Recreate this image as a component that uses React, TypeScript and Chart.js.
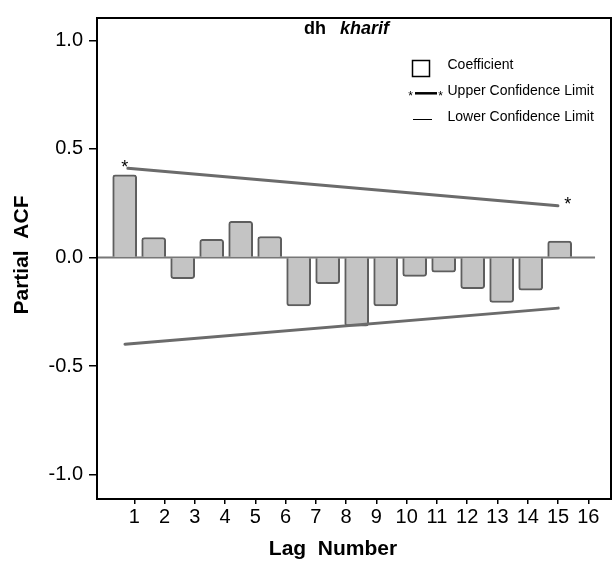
import React, { useEffect, useRef } from 'react';
import { Chart, registerables } from 'chart.js';

Chart.register(...registerables);

const FONT = "'Liberation Sans', Arial, Helvetica, sans-serif";

// Lags and partial autocorrelation coefficients
const lags = [1, 2, 3, 4, 5, 6, 7, 8, 9, 10, 11, 12, 13, 14, 15, 16];
const pacfValues = [0.381, 0.092, -0.097, 0.084, 0.167, 0.097, -0.223, -0.12, -0.316, -0.223, -0.087, -0.067, -0.143, -0.207, -0.15, 0.076];

// Visible axis tick values / labels
const xTickValues = [1, 2, 3, 4, 5, 6, 7, 8, 9, 10, 11, 12, 13, 14, 15, 16];
const xTickLabels = ['1', '2', '3', '4', '5', '6', '7', '8', '9', '10', '11', '12', '13', '14', '15', '16'];
const yTickValues = [-1, -0.5, 0, 0.5, 1];

// Confidence limits (end points on lag axis)
const upperLimitLags = [1.11, 15.94];
const upperLimitValues = [0.411, 0.238];
const lowerLimitLags = [1.01, 15.95];
const lowerLimitValues = [-0.399, -0.233];

// Zero reference line
const zeroLineLags = [0.045, 17.22];
const zeroLineValues = [0, 0];

// Asterisk markers on the upper limit
const asteriskLags = [1.0, 16.28];
const asteriskValues = [0.433, 0.263];

const legendLabels = ['Coefficient', 'Upper Confidence Limit', 'Lower Confidence Limit'];
const titleParts = ['dh', 'kharif'];
const xTitle = 'Lag  Number';
const yTitle = 'Partial  ACF';

function drawStar(ctx: CanvasRenderingContext2D, x: number, y: number, size: number) {
  ctx.font = `${size}px ${FONT}`;
  ctx.textAlign = 'center';
  ctx.textBaseline = 'alphabetic';
  const m = ctx.measureText('*');
  const asc = m.actualBoundingBoxAscent || size * 0.72;
  const desc = m.actualBoundingBoxDescent || -size * 0.44;
  ctx.fillText('*', x, y + (asc - desc) / 2);
}

const decorPlugin = {
  id: 'decor',
  afterDraw(chart: any) {
    const { ctx, chartArea: a, scales } = chart;
    ctx.save();
    // frame
    ctx.strokeStyle = '#000';
    ctx.lineWidth = 2;
    ctx.strokeRect(a.left, a.top, a.right - a.left, a.bottom - a.top);

    // asterisks
    ctx.fillStyle = '#000';
    asteriskLags.forEach((lx, i) => {
      const px = scales.xd.getPixelForValue(lx);
      const py = scales.y.getPixelForValue(asteriskValues[i]);
      drawStar(ctx, px, py, 18);
    });

    // title
    ctx.textAlign = 'left';
    ctx.textBaseline = 'middle';
    ctx.font = `bold 18px ${FONT}`;
    ctx.fillText(titleParts[0], 304, 29);
    ctx.font = `italic bold 18px ${FONT}`;
    ctx.fillText(titleParts[1], 340, 29);

    // legend
    ctx.lineWidth = 1.5;
    ctx.strokeStyle = '#000';
    ctx.fillStyle = '#fff';
    ctx.fillRect(412.5, 60.5, 17, 16);
    ctx.strokeRect(412.5, 60.5, 17, 16);
    ctx.fillStyle = '#000';
    ctx.beginPath();
    ctx.lineWidth = 2.5;
    ctx.moveTo(415, 93.3);
    ctx.lineTo(437, 93.3);
    ctx.stroke();
    ctx.beginPath();
    ctx.lineWidth = 1;
    ctx.moveTo(413, 119.5);
    ctx.lineTo(432, 119.5);
    ctx.stroke();
    drawStar(ctx, 410.5, 93, 12);
    drawStar(ctx, 440.5, 93, 12);
    ctx.font = `14px ${FONT}`;
    ctx.textAlign = 'left';
    ctx.textBaseline = 'middle';
    ctx.fillText(legendLabels[0], 447.5, 65.5);
    ctx.fillText(legendLabels[1], 447.5, 91.5);
    ctx.fillText(legendLabels[2], 447.5, 117.5);

    // axis titles
    ctx.font = `bold 21px ${FONT}`;
    ctx.textAlign = 'center';
    ctx.textBaseline = 'middle';
    ctx.fillText(xTitle, 333, 549);
    ctx.save();
    ctx.translate(22.5, 255);
    ctx.rotate(-Math.PI / 2);
    ctx.fillText(yTitle, 0, 0);
    ctx.restore();
    ctx.restore();
  },
};

export default function App() {
  const ref = useRef<HTMLCanvasElement>(null);

  useEffect(() => {
    if (!ref.current) return;
    const chart = new Chart(ref.current, {
      type: 'bar',
      data: {
        datasets: [
          {
            type: 'line',
            data: zeroLineLags.map((x, i) => ({ x, y: zeroLineValues[i] })),
            xAxisID: 'xd',
            yAxisID: 'y',
            borderColor: '#777777',
            borderWidth: 2,
            pointRadius: 0,
            order: 3,
          } as any,
          {
            type: 'bar',
            data: lags.map((x, i) => ({ x, y: pacfValues[i] })),
            xAxisID: 'xd',
            yAxisID: 'y',
            backgroundColor: '#c4c4c4',
            borderColor: '#5e5e5e',
            borderWidth: 2,
            borderRadius: 3,
            barThickness: 24,
            order: 2,
          } as any,
          {
            type: 'line',
            data: upperLimitLags.map((x, i) => ({ x, y: upperLimitValues[i] })),
            xAxisID: 'xd',
            yAxisID: 'y',
            borderColor: '#6b6b6b',
            borderWidth: 3,
            borderCapStyle: 'round',
            pointRadius: 0,
            order: 1,
          } as any,
          {
            type: 'line',
            data: lowerLimitLags.map((x, i) => ({ x, y: lowerLimitValues[i] })),
            xAxisID: 'xd',
            yAxisID: 'y',
            borderColor: '#6b6b6b',
            borderWidth: 3,
            borderCapStyle: 'round',
            pointRadius: 0,
            order: 1,
          } as any,
        ],
      },
      options: {
        animation: false,
        responsive: false,
        layout: { padding: { top: 10, right: 2, left: 0, bottom: 0 } },
        plugins: {
          legend: { display: false },
          tooltip: { enabled: false },
          title: { display: false },
        },
        scales: {
          xd: {
            type: 'linear',
            display: false,
            min: 0.045,
            max: 17.77,
            offset: false,
            grid: { offset: false },
          },
          x: {
            type: 'linear',
            position: 'bottom',
            min: -0.232,
            max: 16.75,
            offset: false,
            afterBuildTicks: (s: any) => {
              s.ticks = xTickValues.map((v) => ({ value: v }));
            },
            afterFit: (s: any) => {
              s.height = 63;
            },
            ticks: {
              autoSkip: false,
              maxRotation: 0,
              padding: 1,
              color: '#000',
              font: { family: FONT, size: 20 },
              callback: (v: any) => xTickLabels[xTickValues.indexOf(Number(v))],
            },
            grid: { offset: false, drawOnChartArea: false, drawTicks: true, tickLength: 5, color: '#000', lineWidth: 1.5 },
            border: { display: false },
          },
          y: {
            type: 'linear',
            min: -1.112,
            max: 1.103,
            afterBuildTicks: (s: any) => {
              s.ticks = yTickValues.map((v) => ({ value: v }));
            },
            afterFit: (s: any) => {
              s.width = 97;
            },
            ticks: {
              padding: 6,
              color: '#000',
              font: { family: FONT, size: 20 },
              callback: (v: any) => Number(v).toFixed(1),
            },
            grid: { drawOnChartArea: false, drawTicks: true, tickLength: 8, color: '#000', lineWidth: 1.5 },
            border: { display: false },
          },
        },
      } as any,
      plugins: [decorPlugin],
    });
    return () => chart.destroy();
  }, []);

  return (
    <div style={{ position: 'fixed', left: 0, top: 0, width: 613, height: 562, background: '#fff' }}>
      <canvas ref={ref} width={613} height={562} style={{ display: 'block', width: 613, height: 562 }} />
    </div>
  );
}
